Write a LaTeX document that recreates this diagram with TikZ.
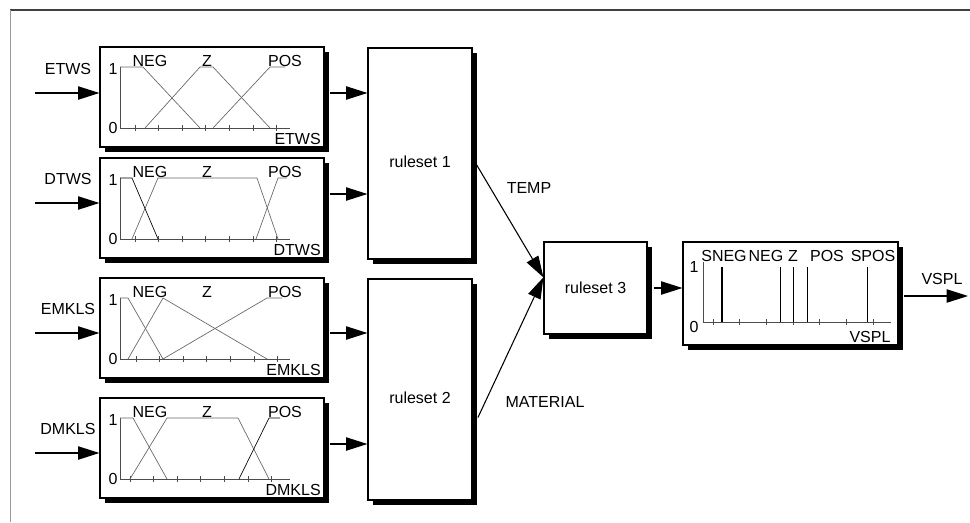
\documentclass[tikz,border=0pt]{standalone}
\usepackage{fontspec}
\setmainfont{Liberation Sans}
\usetikzlibrary{arrows.meta,shadows}
\begin{document}
\begin{tikzpicture}[
x=0.75pt, y=-0.75pt,
every node/.style={
font=\fontsize{12}{14}\selectfont,
inner sep=0pt
},
box/.style={
draw,
fill=white,
line width=0.9pt,
drop shadow={shadow xshift=3.75pt, shadow yshift=-3.75pt, fill=black, opacity=1}
},
mfbox/.style={box, minimum width=168pt, minimum height=75pt},
rulebox/.style={box, minimum width=78pt, text height=21pt},
arr/.style={-{Triangle[length=16pt,width=10pt]}, line width=0.8pt},
axis/.style={black!70, line width=0.6pt},
mf/.style={black!60, line width=0.5pt},
spike/.style={black, line width=0.7pt}
]

\useasboundingbox (0,0) rectangle (970,522);
\draw[black!75, line width=1.5pt] (10,10) -- (970,10);
\draw[black!40, line width=0.75pt] (10,10) -- (10,522);

% rule blocks
\node[rulebox, minimum height=158.25pt] (rs1) at (420,153.5)
{ruleset 1};

\node[rulebox, minimum height=165.75pt] (rs2) at (420,389.5)
{ruleset 2};

\node[box, minimum width=77.25pt, minimum height=69pt] (rs3) at (595.5,288)
{ruleset 3};

\node[box, minimum width=161.25pt, minimum height=77.25pt] (vspl) at (790.5,293.5)
{};

% input blocks
\foreach \i/\nm/\dy/\ay/\ly/\oy/\tk/\rs in {
1/ETWS/0/93/69/93/135/rs1,
2/DTWS/111/92/68/83/135/rs1,
3/EMKLS/231/102/78/102/136/rs2,
4/DMKLS/351/102/78/93/130/rs2}{
\begin{scope}[shift={(0,\dy)}]
\node[mfbox] (mf\i) at (212,97) {};
\draw[axis] (120,67) -- (120,128) -- (290,128);
\foreach \k in {0,...,6}
\draw[axis] (\tk+23.6*\k,125) -- (\tk+23.6*\k,131);
\node (one\i) at (113,69) {1};
\node (zero\i) at (113,128) {0};
\node (neg\i) at (150,61) {NEG};
\node (z\i) at (207,61) {Z};
\node (pos\i) at (285,61) {POS};
\node[anchor=east] (ax\i) at (321,139) {\nm};
\node (in\i) at (68,\ly) {\nm};
\coordinate (src\i) at (35,\ay);
\draw[arr] (src\i) -- (src\i -| mf\i.west);
\draw[arr] ([xshift=3.75pt]mf\i.east |- 0,\oy) -- (\rs.west |- 0,\oy);
\end{scope}
}

% membership functions
\draw[mf] (120,67) -- (143,67) -- (200,128);
\draw[mf] (145,128) -- (200,67) -- (213,67) -- (270,128);
\draw[mf] (213,128) -- (270,67) -- (285,67);

\draw[mf, black] (120,178) -- (132,178) -- (158,239);
\draw[mf] (132,239) -- (158,178) -- (257,178) -- (278,239);
\draw[mf] (256,239) -- (278,178) -- (287,178);

\draw[mf] (120,298) -- (128,298) -- (163,359);
\draw[mf] (128,359) -- (163,298) -- (267,359);
\draw[mf] (163,359) -- (267,298) -- (282,298);

\draw[mf] (120,418) -- (133,418) -- (167,479);
\draw[mf] (130,479) -- (167,418) -- (238,418) -- (269,479);
\draw[mf, black] (239,479) -- (269,418) -- (280,418);

% output block
\draw[axis] (703,262) -- (703,322) -- (891,322);
\foreach \k in {0,...,6}
\draw[axis] (713+26.7*\k,319) -- (713+26.7*\k,325);
\draw[spike, line width=1.5pt] (722,322) -- (722,267);
\foreach \xs in {780,793,807,867}
\draw[spike] (\xs,322) -- (\xs,267);
\node (vone) at (694,267) {1};
\node (vzero) at (694,327) {0};
\node (sneg) at (724,256) {SNEG};
\node (vneg) at (766,256) {NEG};
\node (vz) at (793,256) {Z};
\node (vpos) at (827,256) {POS};
\node (spos) at (873,256) {SPOS};
\node (vaxis) at (870,337) {VSPL};

% links
\node (temp) at (529,188) {TEMP};
\node (mat) at (545,402) {MATERIAL};
\draw[arr] ([yshift=-3.4pt]rs1.east) -- ([yshift=8pt]rs3.west);
\draw[arr] ([xshift=4pt,yshift=-21pt]rs2.east) -- ([yshift=8pt]rs3.west);
\draw[arr] ([xshift=4.5pt]rs3.east) -- (rs3.east -| vspl.west);

\coordinate (vsplout) at (968,296);
\node (vsplname) at (942,279) {VSPL};
\draw[arr] ([xshift=3.75pt]vspl.east |- vsplout) -- (vsplout);

\end{tikzpicture}
\end{document}
